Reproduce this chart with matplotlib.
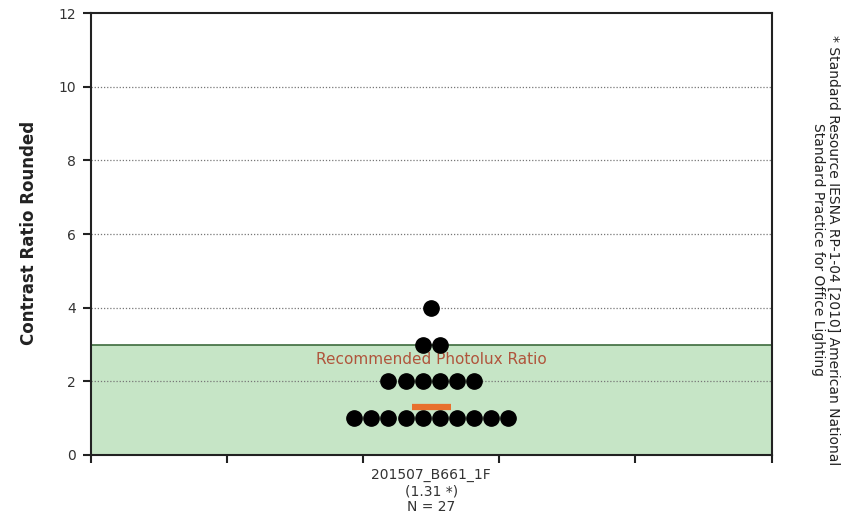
import matplotlib
matplotlib.use("Agg")
import matplotlib.pyplot as plt
import numpy as np

# Observations per rounded contrast value (beeswarm rows)
row_values = [1, 2, 3, 4]
row_counts = [10, 6, 2, 1]
mean_value = 1.31
n_total = 27
category = "201507_B661_1F"
recommended_max = 3
yticks = [0, 2, 4, 6, 8, 10, 12]

fig = plt.figure(figsize=(8.66, 5.26), dpi=100)
ax = fig.add_axes([0.105, 0.135, 0.786, 0.84])

x_center = 2.5
spacing = 0.126

ax.set_xlim(0, 5)
ax.set_ylim(0, 12)

# Recommended band
ax.axhspan(0, recommended_max, facecolor="#c6e5c6", edgecolor="none", zorder=0)
ax.axhline(recommended_max, color="#3d6b3d", lw=1.2, zorder=1)
ax.text(x_center, recommended_max - 0.42, "Recommended Photolux Ratio",
        ha="center", va="center", fontsize=11, color="#b0553c", zorder=2)

# Dotted grid
for y in yticks[1:-1]:
    ax.axhline(y, color="#777777", lw=0.9, ls=(0, (1, 1.5)), zorder=1)

# Dots
for v, c in zip(row_values, row_counts):
    xs = x_center + (np.arange(c) - (c - 1) / 2) * spacing
    ax.plot(xs, [v] * c, "o", color="black", ms=11, zorder=3)

# Mean marker
ax.plot([x_center - 0.145, x_center + 0.145], [mean_value, mean_value],
        color="#e8702e", lw=4.5, solid_capstyle="butt", zorder=4)

ax.set_yticks(yticks)
ax.set_yticklabels([str(t) for t in yticks], fontsize=10, color="#333333")
ax.set_xticks([0, 1, 2, 3, 4, 5])
ax.set_xticklabels([])
ax.tick_params(axis="both", direction="out", length=6, width=1.5, color="#222222")
ax.tick_params(axis="y", pad=5)
for s in ax.spines.values():
    s.set_linewidth(1.5)
    s.set_color("#222222")

ax.text(x_center, -0.35, f"{category}\n({mean_value:.2f} *)\nN = {n_total}",
        transform=ax.transData, ha="center", va="top", fontsize=10,
        color="#333333", linespacing=1.2)

fig.text(0.033, 0.557, "Contrast Ratio Rounded", rotation=90, ha="center",
         va="center", fontsize=12, fontweight="bold", color="#222222")

fig.text(0.953, 0.525,
         "* Standard Resource IESNA RP-1-04 [2010] American National\nStandard Practice for Office Lighting",
         rotation=-90, ha="center", va="center", fontsize=10, color="#222222",
         multialignment="center", linespacing=1.1)

fig.savefig("out.png", dpi=100)
